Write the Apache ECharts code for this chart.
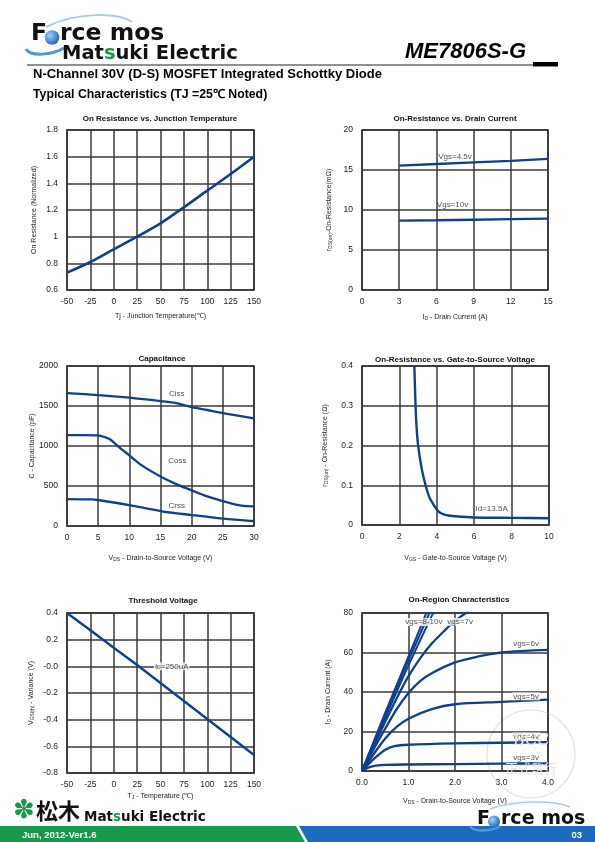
<!DOCTYPE html>
<html><head><meta charset="utf-8">
<script src="https://cdn.jsdelivr.net/npm/echarts@6/dist/echarts.min.js"></script>
<style>html,body{margin:0;padding:0;background:#fff}#c{width:595px;height:842px}</style>
</head><body><div id="c"></div>
<script>
// ---------- DATA ----------
// 1. On Resistance vs Junction Temperature
const tempX = [-50, -25, 0, 25, 50, 75, 100, 125, 150];
const rdsNorm = [0.73, 0.81, 0.905, 1.0, 1.1, 1.22, 1.345, 1.47, 1.6];
// 2. On-Resistance vs Drain Current
const idX = [3, 6, 9, 12, 15];
const rVgs45 = [15.55, 15.75, 15.95, 16.15, 16.4];
const rVgs10 = [8.67, 8.72, 8.78, 8.85, 8.92];
// 3. Capacitance
const cissX = [0, 5, 10, 15, 17.5, 20, 22.5, 25, 30];
const cissY = [1662, 1637, 1604, 1562, 1537, 1487, 1450, 1412, 1346];
const cossX = [0, 3, 5, 6, 7, 8, 10, 12, 15, 18, 20, 22, 25, 28, 30];
const cossY = [1137, 1137, 1133, 1112, 1079, 1008, 883, 758, 620, 508, 446, 383, 312, 254, 246];
const crssX = [0, 4, 5, 10, 15, 20, 25, 30];
const crssY = [337, 333, 325, 262, 187, 137, 92, 62];
// 4. On-Resistance vs Gate-to-Source Voltage
const vgsX = [2.8, 2.85, 2.9, 3.0, 3.2, 3.4, 3.6, 3.8, 4.0, 4.2, 4.5, 5, 6, 8, 10];
const rdsVgs = [0.4, 0.32, 0.26, 0.2, 0.14, 0.1, 0.07, 0.053, 0.039, 0.03, 0.025, 0.022, 0.019, 0.018, 0.017];
// 5. Threshold Voltage
const vthX = [-50, -25, 0, 25, 50, 75, 100, 125, 150];
const vthY = [0.4, 0.27, 0.14, 0.01, -0.125, -0.26, -0.395, -0.53, -0.665];
// 6. On-Region Characteristics
const v3X = [0, 0.1, 0.2, 0.3, 0.5, 1, 2, 3, 4];
const v3Y = [0, 1.3, 2.2, 2.7, 3.1, 3.3, 3.5, 3.7, 3.9];
const v4X = [0, 0.25, 0.5, 0.7, 1, 2, 3, 4];
const v4Y = [0, 6, 10.8, 12.6, 13.3, 14, 14.3, 14.6];
const v5X = [0, 0.25, 0.5, 0.75, 1, 1.5, 2, 3, 4];
const v5Y = [0, 8.5, 16.5, 22.5, 26.5, 31.3, 33.8, 35, 36.1];
const v6X = [0, 0.25, 0.5, 0.75, 1, 1.25, 1.5, 2, 2.5, 3, 3.5, 4];
const v6Y = [0, 11, 21.5, 31.5, 39.5, 45.5, 49.5, 55, 58, 60, 60.8, 61.3];
const v7X = [0, 0.25, 0.5, 0.75, 1, 1.25, 1.5, 1.75, 2, 2.3];
const v7Y = [0, 12.5, 25, 37, 48, 57, 64.5, 70.5, 76, 81];
const v8X = [0, 0.5, 1, 1.55];
const v8Y = [0, 27, 53.5, 81];
const v9X = [0, 0.5, 1, 1.47];
const v9Y = [0, 28.5, 56, 81];
const v10X = [0, 0.5, 1, 1.4];
const v10Y = [0, 29.5, 58, 81];
// annotations [x, y, text]
const notes2 = [[7.5, 16.7, 'Vgs=4.5v'], [7.3, 10.6, 'Vgs=10v']];
const notes3 = [[17.6, 1654, 'Ciss'], [17.7, 820, 'Coss'], [17.6, 250, 'Crss']];
const notes4 = [[6.93, 0.042, 'Id=13.5A']];
const notes5 = [[62, 0, 'I{s|D}=250uA']];
const notes6 = [[1.33, 75.5, 'vgs=8-10v'], [2.11, 75.5, 'vgs=7v'], [3.53, 64.4, 'vgs=6v'], [3.53, 37.8, 'vgs=5v'], [3.53, 17.5, 'vgs=4v'], [3.53, 6.9, 'vgs=3v']];

// ---------- STYLE ----------
const FONT = "'Liberation Sans', Arial, sans-serif";
const LOGO = "'DejaVu Sans', sans-serif";
const LINE = '#0f3f92';
const GRID_C = '#3a3a3a';
const TXT = '#222';
const SUB = { s: { fontSize: 5, fontFamily: FONT, color: TXT, padding: [3, 0, 0, 0] } };

const pairs = (xs, ys) => xs.map((x, i) => [x, ys[i]]);

const grids = [
  { left: 67, top: 130, width: 187, height: 160 },
  { left: 362, top: 130, width: 186, height: 160 },
  { left: 67, top: 366, width: 187, height: 160 },
  { left: 362, top: 366, width: 187, height: 159 },
  { left: 67, top: 613, width: 187, height: 160 },
  { left: 362, top: 613, width: 186, height: 158 }
].map(g => Object.assign({ show: true, borderColor: '#111', borderWidth: 1.5, backgroundColor: 'transparent', containLabel: false, outerBoundsMode: 'none' }, g));

function axis(gi, min, max, interval, name, gap, fmt, isY) {
  return {
    gridIndex: gi, type: 'value', min, max, interval, name,
    nameLocation: 'middle', nameGap: gap,
    nameTextStyle: { fontFamily: FONT, fontSize: 7, color: TXT, rich: SUB },
    axisLine: { show: false, onZero: false },
    axisTick: { show: false },
    axisLabel: { fontFamily: FONT, fontSize: 8.5, color: TXT, margin: isY ? 9 : 7, formatter: fmt || (v => String(+v.toFixed(6))) },
    splitLine: { show: true, lineStyle: { color: GRID_C, width: 1.5 } }
  };
}
const f1 = v => v.toFixed(1);
const fVth = v => Math.abs(v) < 1e-9 ? '-0.0' : v.toFixed(1);

const xAxes = [
  axis(0, -50, 150, 25, 'Tj - Junction Temperature(℃)', 23),
  axis(1, 0, 15, 3, 'I{s|D} - Drain Current (A)', 23),
  axis(2, 0, 30, 5, 'V{s|DS} - Drain-to-Source Voltage (V)', 28),
  axis(3, 0, 10, 2, 'V{s|GS} - Gate-to-Source Voltage (V)', 29),
  axis(4, -50, 150, 25, 'T{s|J} - Temperature (℃)', 19),
  axis(5, 0, 4, 1, 'V{s|DS} - Drain-to-Source Voltage (V)', 26, f1)
];
const yAxes = [
  axis(0, 0.6, 1.8, 0.2, 'On Resistance (Normalized)', 29, null, true),
  axis(1, 0, 20, 5, 'r{s|DS(on)}-On-Resistance(mΩ)', 29, null, true),
  axis(2, 0, 2000, 500, 'C - Capacitance (pF)', 31, null, true),
  axis(3, 0, 0.4, 0.1, 'r{s|DS(on)} - On-Resistance (Ω)', 33, null, true),
  axis(4, -0.8, 0.4, 0.2, 'V{s|GS(th)} - Variance (V)', 32, fVth, true),
  axis(5, 0, 80, 20, 'I{s|D} - Drain Current (A)', 30, null, true)
];

function line(gi, xs, ys, w, sm) {
  return {
    type: 'line', xAxisIndex: gi, yAxisIndex: gi, data: pairs(xs, ys),
    showSymbol: false, smooth: sm === undefined ? 0.3 : sm, clip: true,
    lineStyle: { color: LINE, width: w || 2.3 }, z: 3
  };
}
function notes(gi, arr, bg) {
  return {
    type: 'scatter', xAxisIndex: gi, yAxisIndex: gi, symbolSize: 1, z: 6,
    itemStyle: { color: 'transparent' }, silent: true,
    data: arr.map(a => ({ value: [a[0], a[1]], name: a[2] })),
    label: {
      show: true, position: 'inside', formatter: p => p.name,
      fontFamily: FONT, fontSize: 8, color: TXT, rich: SUB,
      backgroundColor: bg ? '#fff' : 'transparent', padding: bg ? [0, 1] : 0
    }
  };
}

const series = [
  line(0, tempX, rdsNorm, 2.6),
  line(1, idX, rVgs45, 2.3, 0), line(1, idX, rVgs10, 2.3, 0),
  line(2, cissX, cissY), line(2, cossX, cossY), line(2, crssX, crssY),
  line(3, vgsX, rdsVgs, 2.4, 0.2),
  line(4, vthX, vthY, 2.4, 0),
  line(5, v3X, v3Y), line(5, v4X, v4Y), line(5, v5X, v5Y), line(5, v6X, v6Y),
  line(5, v7X, v7Y), line(5, v8X, v8Y, 2), line(5, v9X, v9Y, 2), line(5, v10X, v10Y, 2),
  notes(1, notes2), notes(2, notes3), notes(3, notes4),
  notes(4, notes5, true), notes(5, notes6, true)
];

// ---------- TEXT / DECORATION ----------
function txt(x, y, text, o) {
  o = o || {};
  return {
    type: 'text', x, y, z: o.z || 10, silent: true,
    style: Object.assign({
      text, fontFamily: FONT, fontSize: 8, fontWeight: 'normal', fill: TXT,
      textAlign: o.align || 'center', align: o.align || 'center',
      textVerticalAlign: 'middle', verticalAlign: 'middle'
    }, o.style || {})
  };
}
const chartTitles = [
  [160, 119, 'On Resistance vs. Junction Temperature'],
  [455, 119, 'On-Resistance vs. Drain Current'],
  [162, 359, 'Capacitance'],
  [455, 360, 'On-Resistance vs. Gate-to-Source Voltage'],
  [163, 601, 'Threshold Voltage'],
  [459, 600, 'On-Region Characteristics']
];

const graphic = [
  // header logo swoosh
  { type: 'bezierCurve', silent: true, z: 1, shape: { x1: 26, y1: 49, cpx1: 30, cpy1: 57, cpx2: 52, cpy2: 55, x2: 64, y2: 48 }, style: { stroke: '#4c9ad8', lineWidth: 3, fill: null } },
  { type: 'bezierCurve', silent: true, z: 1, shape: { x1: 46, y1: 27, cpx1: 75, cpy1: 12, cpx2: 118, cpy2: 12, x2: 132, y2: 22 }, style: { stroke: '#a9cdef', lineWidth: 2, fill: null } },
  txt(31, 34, 'F', { align: 'left', style: { fontFamily: LOGO, fontSize: 23.5, fontWeight: 'bold', fill: '#111' } }),
  { type: 'circle', silent: true, z: 10, shape: { cx: 52, cy: 37.5, r: 7.3 }, style: { fill: { type: 'radial', x: 0.35, y: 0.35, r: 0.8, colorStops: [{ offset: 0, color: '#9fd0ff' }, { offset: 1, color: '#0a56b0' }] } } },
  txt(60, 34, 'rce mos', { align: 'left', style: { fontFamily: LOGO, fontSize: 23.5, fontWeight: 'bold', fill: '#111' } }),
  txt(62, 54, 'Mat{g|s}uki Electric', { align: 'left', style: { fontFamily: LOGO, fontSize: 19.5, fontWeight: 'bold', fill: '#111', rich: { g: { fontFamily: LOGO, fontSize: 19.5, fontWeight: 'bold', fill: '#1b9a48', color: '#1b9a48' } } } }),
  txt(405, 52, 'ME7806S-G', { align: 'left', style: { fontSize: 22, fontWeight: 'bold', fontStyle: 'italic', fill: '#000' } }),
  { type: 'line', silent: true, shape: { x1: 27, y1: 65, x2: 534, y2: 65 }, style: { stroke: '#222', lineWidth: 1 } },
  { type: 'rect', silent: true, shape: { x: 533, y: 62, width: 25, height: 4.5 }, style: { fill: '#000' } },
  txt(33, 74.5, 'N-Channel 30V (D-S) MOSFET Integrated Schottky Diode', { align: 'left', style: { fontSize: 13, fontWeight: 'bold', fill: '#000' } }),
  txt(33, 94.5, 'Typical Characteristics (TJ =25℃ Noted)', { align: 'left', style: { fontSize: 12.3, fontWeight: 'bold', fill: '#000' } }),
  // watermark stamp
  { type: 'circle', silent: true, z: 0, shape: { cx: 531, cy: 754, r: 44 }, style: { fill: null, stroke: '#e2e2e2', lineWidth: 1.2 } },
  txt(531, 741, 'BCC', { z: 0, style: { fontFamily: "'DejaVu Serif', serif", fontSize: 16, fill: '#e4e4e4' } }),
  txt(531, 768, '正式發行', { z: 0, style: { fontFamily: "'Noto Sans CJK TC', sans-serif", fontSize: 13, fill: '#e4e4e4' } }),
  // footer bands
  { type: 'polygon', silent: true, shape: { points: [[0, 826], [296, 826], [305, 842], [0, 842]] }, style: { fill: '#17994a' } },
  { type: 'polygon', silent: true, shape: { points: [[299, 826], [595, 826], [595, 842], [308, 842]] }, style: { fill: '#1b6cc0' } },
  txt(22, 835, 'Jun, 2012-Ver1.6', { align: 'left', style: { fontSize: 9.5, fontWeight: 'bold', fill: '#fff' } }),
  txt(582, 835, '03', { align: 'right', style: { fontSize: 9.5, fontWeight: 'bold', fill: '#fff' } }),
  // footer Matsuki logo
  txt(24, 811, '✽', { style: { fontFamily: LOGO, fontSize: 26, fill: '#17994a' } }),
  txt(36, 811, '松木', { align: 'left', style: { fontFamily: "'Noto Sans CJK JP', sans-serif", fontSize: 22, fontWeight: 'bold', fill: '#111' } }),
  txt(84, 817, 'Mat{g|s}uki Electric', { align: 'left', style: { fontFamily: LOGO, fontSize: 13.5, fontWeight: 'bold', fill: '#111', rich: { g: { fontFamily: LOGO, fontSize: 13.5, fontWeight: 'bold', fill: '#1b9a48', color: '#1b9a48' } } } }),
  // footer Force mos logo
  { type: 'bezierCurve', silent: true, z: 1, shape: { x1: 470, y1: 826, cpx1: 474, cpy1: 833, cpx2: 492, cpy2: 831, x2: 500, y2: 826 }, style: { stroke: '#4c9ad8', lineWidth: 2.4, fill: null } },
  { type: 'bezierCurve', silent: true, z: 1, shape: { x1: 490, y1: 809, cpx1: 515, cpy1: 800, cpx2: 555, cpy2: 800, x2: 570, y2: 807 }, style: { stroke: '#a9cdef', lineWidth: 1.6, fill: null } },
  txt(477, 819, 'F', { align: 'left', style: { fontFamily: LOGO, fontSize: 19, fontWeight: 'bold', fill: '#111' } }),
  { type: 'circle', silent: true, z: 10, shape: { cx: 494, cy: 821.5, r: 6 }, style: { fill: { type: 'radial', x: 0.35, y: 0.35, r: 0.8, colorStops: [{ offset: 0, color: '#9fd0ff' }, { offset: 1, color: '#0a56b0' }] } } },
  txt(501, 819, 'rce mos', { align: 'left', style: { fontFamily: LOGO, fontSize: 19, fontWeight: 'bold', fill: '#111' } })
].concat(chartTitles.map(t => txt(t[0], t[1], t[2], { style: { fontSize: 8, fontWeight: 'bold', fill: '#111' } })));

const chart = echarts.init(document.getElementById('c'), null, { renderer: 'canvas', width: 595, height: 842 });
chart.setOption({
  animation: false,
  backgroundColor: '#fff',
  grid: grids,
  xAxis: xAxes,
  yAxis: yAxes,
  series,
  graphic
});
</script>
</body></html>
